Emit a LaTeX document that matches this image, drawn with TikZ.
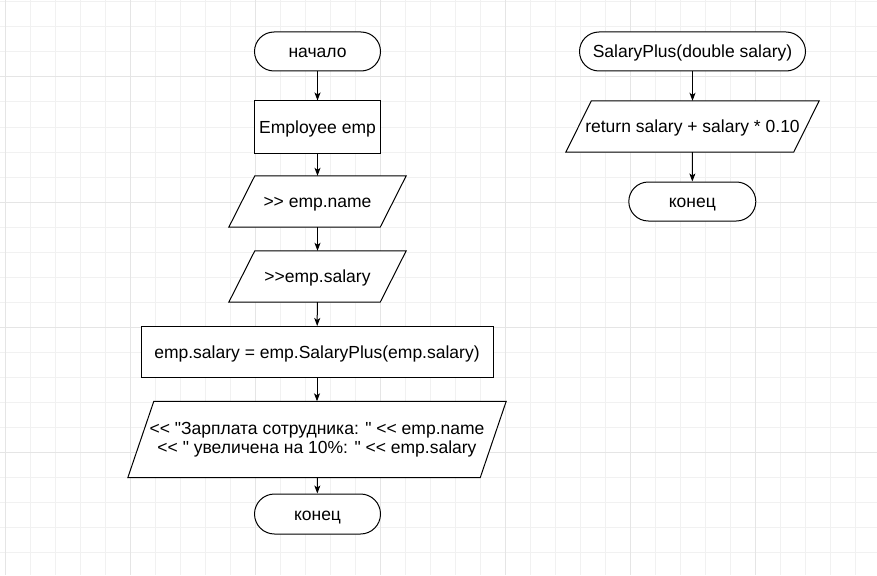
\documentclass[tikz,border=0pt]{standalone}
\usepackage{fontspec}
\newfontfamily\chartfont{Liberation Sans}
\usepackage{tikz}
\usetikzlibrary{arrows.meta}
\definecolor{gridthin}{HTML}{F1F1F1}
\definecolor{gridthick}{HTML}{E5E5E5}
\newcommand{\flowfont}{\chartfont\fontsize{17.5}{19}\selectfont}
\pgfdeclarelayer{grid}
\pgfdeclarelayer{frames}
\pgfsetlayers{grid,frames,main}
% slanted frame round an io node: #1 node name, #2 half of the slant
\newcommand{\ioframe}[2]{%
  \begin{pgfonlayer}{frames}
    \draw[line width=1pt, fill=white] ([xshift=#2]#1.north west) -- ([xshift=#2]#1.north east)
      -- ([xshift=-#2]#1.south east) -- ([xshift=-#2]#1.south west) -- cycle;
  \end{pgfonlayer}}

\begin{document}
\begin{tikzpicture}[x=1pt, y=-1pt,
    oneline/.style={text height=15.8pt, text depth=3.7pt},
    terminal/.style={rectangle, draw, fill=white, line width=1pt, rounded corners=19.5pt, minimum height=39pt, inner sep=0pt, font=\flowfont, oneline},
    process/.style={rectangle, draw, fill=white, line width=1pt, minimum height=51pt, inner sep=0pt, font=\flowfont, oneline},
    io/.style={rectangle, minimum height=51pt, inner sep=0pt, font=\flowfont},
    flow/.style={line width=1pt, -{Stealth[length=8pt, width=6pt, inset=2pt]}}
]
    \useasboundingbox (0,0) rectangle (877,575);
    % background grid
    \begin{pgfonlayer}{grid}
    \foreach \gx in {5,30,...,855} \draw[gridthin, line width=1pt] (\gx,0) -- (\gx,575);
    \foreach \gy in {2,27,...,552} \draw[gridthin, line width=1pt] (0,\gy) -- (877,\gy);
    \foreach \gx in {5,130,...,755} \draw[gridthick, line width=1pt] (\gx,0) -- (\gx,575);
    \foreach \gy in {77,202,...,452} \draw[gridthick, line width=1pt] (0,\gy) -- (877,\gy);
    \end{pgfonlayer}

    % main
    \node[terminal, minimum width=126pt] (start) at (317.5,51.5) {начало};
    \node[process, minimum width=126pt, minimum height=52pt] (emp) at (317.5,127) {Employee emp};
    \node[io, oneline, minimum width=151pt] (inname) at (317.5,201.5) {>> emp.name};
    \ioframe{inname}{13pt}
    \node[io, oneline, minimum width=151pt] (insalary) at (317.5,276.5) {>>emp.salary};
    \ioframe{insalary}{13pt}
    \node[process, minimum width=352pt] (raise) at (317,352) {emp.salary = emp.SalaryPlus(emp.salary)};
    \node[io, minimum width=352pt, minimum height=76pt, align=center] (out) at (317,439.5)
        {<< "Зарплата сотрудника: " << emp.name\\ << " увеличена на 10\%: " << emp.salary};
    \ioframe{out}{13pt}
    \node[terminal, minimum width=126pt, minimum height=40pt, rounded corners=20pt] (stop) at (317.5,514) {конец};

    % SalaryPlus
    \node[terminal, minimum width=226pt] (plus) at (692.5,51.5) {SalaryPlus(double salary)};
    \node[io, oneline, minimum width=227.5pt] (ret) at (692.5,126.5) {return salary + salary * 0.10};
    \ioframe{ret}{12.75pt}
    \node[terminal, minimum width=127pt] (plusend) at (692.3,201.5) {конец};

    \draw[flow] (start) -- (emp);
    \draw[flow] (emp) -- (inname);
    \draw[flow] (inname) -- (insalary);
    \draw[flow] (insalary) -- (raise);
    \draw[flow] (raise) -- (out);
    \draw[flow] (out) -- (stop);
    \draw[flow] (plus) -- (ret);
    \draw[flow] (ret) -- (plusend);
\end{tikzpicture}
\end{document}
